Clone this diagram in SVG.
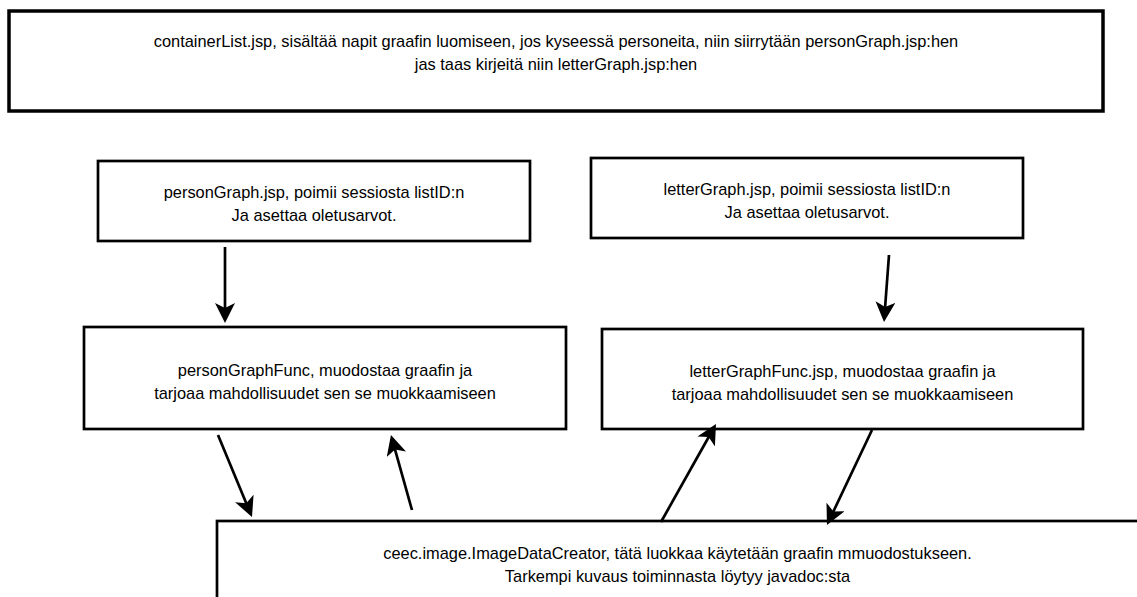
<svg xmlns="http://www.w3.org/2000/svg" width="1137" height="597" viewBox="0 0 1137 597">
<style>
.box{fill:#fff;stroke:#000;stroke-width:2.7}
.big{stroke-width:3.5}
.t{font-family:"Liberation Sans",Arial,Helvetica,sans-serif;font-size:16.4px;fill:#000;text-anchor:middle}
.c{fill:none;stroke:#000;stroke-width:2.7;marker-end:url(#ah)}
</style>
<defs>
<marker id="ah" markerUnits="userSpaceOnUse" viewBox="0 0 20 20" markerWidth="20" markerHeight="20" refX="8" refY="10" orient="auto">
<path d="M20,10 L0,0 L5,10 L0,20 Z" fill="#000"/>
</marker>
</defs>
<rect width="1137" height="597" fill="#fff"/>
<g id="containerList">
<rect class="box big" x="9" y="11" width="1094" height="100"/>
<text class="t" x="556" y="47">containerList.jsp, sisältää napit graafin luomiseen, jos kyseessä personeita, niin siirrytään personGraph.jsp:hen</text>
<text class="t" x="556" y="70">jas taas kirjeitä niin letterGraph.jsp:hen</text>
</g>
<g id="personGraph">
<rect class="box" x="98" y="161" width="432" height="80"/>
<text class="t" x="314" y="198">personGraph.jsp, poimii sessiosta listID:n</text>
<text class="t" x="314" y="221">Ja asettaa oletusarvot.</text>
</g>
<g id="letterGraph">
<rect class="box" x="591" y="158" width="432" height="80"/>
<text class="t" x="807" y="195">letterGraph.jsp, poimii sessiosta listID:n</text>
<text class="t" x="807" y="218">Ja asettaa oletusarvot.</text>
</g>
<g id="personGraphFunc">
<rect class="box" x="84" y="327" width="482" height="102"/>
<text class="t" x="325" y="376">personGraphFunc, muodostaa graafin ja</text>
<text class="t" x="325" y="399">tarjoaa mahdollisuudet sen se muokkaamiseen</text>
</g>
<g id="letterGraphFunc">
<rect class="box" x="602" y="329" width="481" height="100"/>
<text class="t" x="842.5" y="377">letterGraphFunc.jsp, muodostaa graafin ja</text>
<text class="t" x="842.5" y="400">tarjoaa mahdollisuudet sen se muokkaamiseen</text>
</g>
<g id="imageDataCreator">
<rect class="box" x="217" y="521" width="925" height="100"/>
<text class="t" x="677.5" y="559">ceec.image.ImageDataCreator, tätä luokkaa käytetään graafin mmuodostukseen.</text>
<text class="t" x="677.5" y="582">Tarkempi kuvaus toiminnasta löytyy javadoc:sta</text>
</g>
<g id="connectors">
<path class="c" d="M225,247 L225,311"/>
<path class="c" d="M889,255 L884.9,310"/>
<path class="c" d="M218,435 L247.4,505.9"/>
<path class="c" d="M412,510 L394.2,446.6"/>
<path class="c" d="M661,522 L710.1,434.5"/>
<path class="c" d="M872,430 L832.1,514.2"/>
</g>
</svg>
